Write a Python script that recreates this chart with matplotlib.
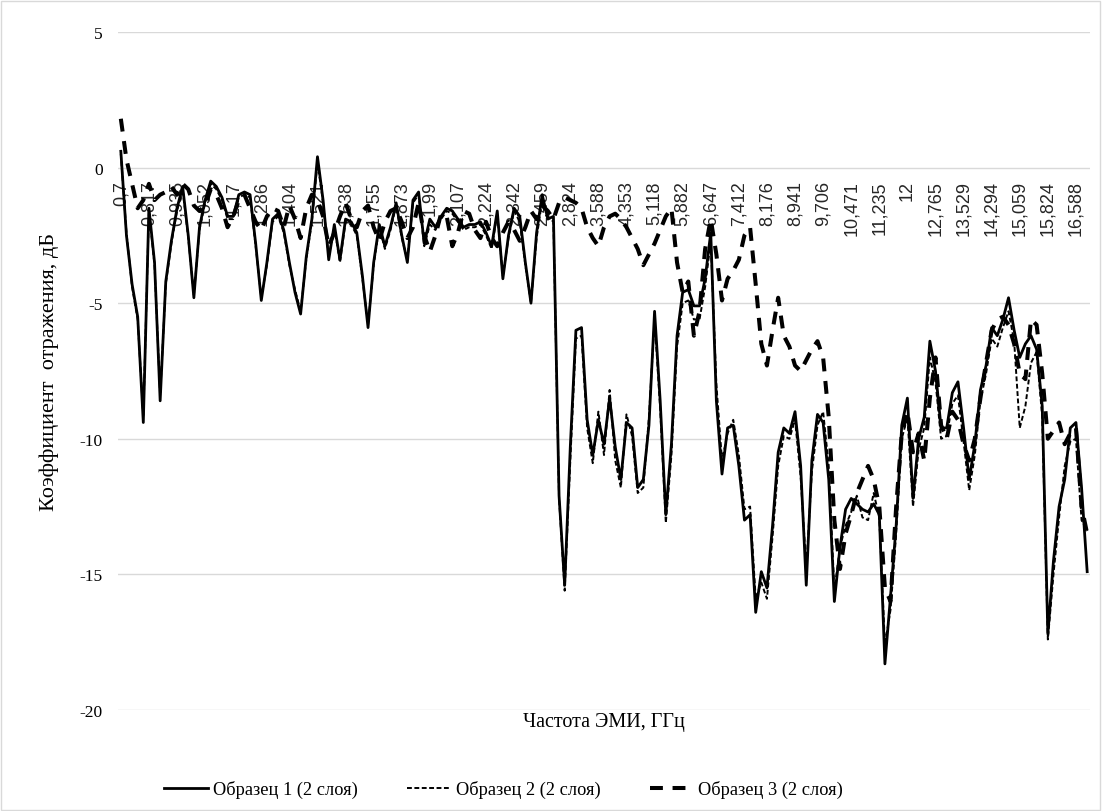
import matplotlib.pyplot as plt
from matplotlib.patches import Rectangle

# Category labels shown on the x axis (every 5th point)
tick_labels = ['0,7', '0,817', '0,935', '1,052', '1,17', '1,286', '1,404', '1,521',
               '1,638', '1,755', '1,873', '1,99', '2,107', '2,224', '2,342', '2,459',
               '2,824', '3,588', '4,353', '5,118', '5,882', '6,647', '7,412', '8,176',
               '8,941', '9,706', '10,471', '11,235', '12', '12,765', '13,529', '14,294',
               '15,059', '15,824', '16,588']
label_step = 5

series_names = ['Образец 1 (2 слоя)', 'Образец 2 (2 слоя)', 'Образец 3 (2 слоя)']

# Reflection coefficient, dB
sample1 = [
    0.6, -2.5, -4.3, -5.5, -9.4, -1.5, -3.5, -8.6, -4.2, -2.7,
    -1.5, -0.7, -2.5, -4.8, -2.2, -1.2, -0.5, -0.7, -1.1, -1.8,
    -1.8, -1.0, -0.9, -1.0, -2.8, -4.9, -3.5, -1.9, -1.7, -2.3,
    -3.5, -4.6, -5.4, -3.3, -1.9, 0.4, -1.2, -3.4, -2.1, -3.4,
    -1.9, -2.0, -2.4, -4.0, -5.9, -3.5, -2.1, -2.9, -2.2, -1.3,
    -2.5, -3.5, -1.2, -0.9, -2.8, -1.9, -2.2, -1.8, -1.5, -1.6,
    -1.9, -2.2, -2.1, -2.1, -2.0, -2.4, -2.9, -1.6, -4.1, -2.5,
    -1.5, -1.8, -3.5, -5.0, -2.4, -1.0, -1.9, -1.8, -12.1, -15.4,
    -10.3, -6.0, -5.9, -9.3, -10.6, -9.3, -10.2, -8.5, -10.3, -11.5,
    -9.4, -9.6, -11.8, -11.5, -9.5, -5.3, -8.6, -12.8, -10.2, -6.2,
    -4.6, -4.5, -5.1, -5.1, -4.1, -2.4, -8.6, -11.3, -9.6, -9.5,
    -11.0, -13.0, -12.8, -16.4, -14.9, -15.5, -13.2, -10.5, -9.6, -9.8,
    -9.0, -11.0, -15.4, -10.8, -9.1, -9.4, -11.5, -16.0, -14.0, -12.6,
    -12.2, -12.4, -12.6, -12.7, -12.4, -12.8, -18.3, -15.8, -13.2, -9.5,
    -8.5, -12.2, -10.0, -9.2, -6.4, -7.5, -9.6, -9.6, -8.3, -7.9,
    -9.6, -11.5, -10.2, -8.2, -7.3, -5.9, -6.2, -5.6, -4.8, -6.0,
    -7.0, -6.5, -6.2, -6.7, -8.8, -17.2, -14.5, -12.5, -11.5, -9.6,
    -9.4, -11.8, -14.9,
]

sample2 = [
    0.5, -2.4, -4.4, -5.6, -9.2, -1.6, -3.6, -8.4, -4.3, -2.8,
    -1.6, -0.8, -2.6, -4.7, -2.3, -1.3, -0.6, -0.8, -1.2, -1.9,
    -1.9, -1.1, -1.0, -1.1, -2.9, -4.8, -3.6, -2.0, -1.8, -2.4,
    -3.6, -4.5, -5.3, -3.4, -2.0, 0.2, -1.3, -3.3, -2.2, -3.5,
    -2.0, -2.1, -2.5, -4.1, -5.8, -3.6, -2.2, -3.0, -2.3, -1.4,
    -2.6, -3.4, -1.3, -1.0, -2.9, -2.1, -2.3, -1.9, -1.6, -1.7,
    -2.0, -2.3, -2.2, -2.2, -2.1, -2.5, -3.0, -1.7, -4.0, -2.6,
    -1.6, -2.0, -3.6, -5.0, -2.6, -1.2, -1.8, -2.0, -12.2, -15.6,
    -10.8, -6.3, -6.2, -9.6, -10.9, -9.0, -10.6, -8.2, -10.8, -11.8,
    -9.1, -9.9, -12.0, -11.8, -9.2, -5.6, -8.9, -13.1, -10.6, -6.6,
    -5.0, -4.9, -5.6, -5.6, -4.4, -2.7, -8.0, -10.8, -9.8, -9.3,
    -10.6, -12.6, -12.5, -15.9, -15.3, -15.9, -13.6, -11.0, -9.9, -10.0,
    -9.3, -11.4, -14.8, -11.2, -9.5, -9.0, -11.0, -15.6, -14.0, -13.2,
    -12.7, -12.1, -12.9, -13.0, -12.0, -12.9, -17.6, -16.3, -13.5, -10.0,
    -9.2, -12.5, -10.4, -9.6, -7.0, -7.9, -10.0, -9.9, -8.7, -8.4,
    -10.1, -11.9, -10.6, -8.6, -7.6, -6.3, -6.6, -5.9, -5.3, -6.4,
    -9.6, -8.8, -7.2, -6.8, -9.2, -17.4, -15.0, -12.9, -11.0, -10.1,
    -10.0, -13.0, -13.4,
]

sample3 = [
    1.8, 0.3, -0.6, -1.5, -1.2, -0.6, -1.2, -1.0, -0.9, -0.7,
    -1.0, -0.6, -0.8, -1.4, -1.6, -1.4, -0.8, -1.0, -1.5, -2.2,
    -1.8, -1.2, -1.0, -1.5, -2.0, -2.3, -1.8, -1.5, -1.6, -2.2,
    -1.4, -1.9, -2.6, -1.5, -1.0, -1.2, -1.8, -2.9, -2.4, -1.8,
    -1.3, -1.9, -2.2, -1.6, -1.4, -2.2, -2.7, -2.0, -1.6, -1.5,
    -2.0, -2.6, -2.2, -1.3, -2.5, -3.1, -2.5, -1.7, -1.8, -2.9,
    -2.4, -1.6, -1.7, -2.3, -2.6, -2.0, -2.6, -2.9, -2.4, -2.0,
    -2.3, -2.7, -2.2, -1.6, -1.9, -1.4, -1.6, -1.9, -1.3, -1.1,
    -1.2, -1.3, -1.5, -2.2, -2.6, -2.9, -2.2, -1.8, -1.7, -1.9,
    -2.2, -2.6, -3.0, -3.6, -3.2, -2.8, -2.3, -1.8, -1.5, -3.5,
    -4.6, -4.2, -6.2, -5.3, -3.0, -1.9, -3.2, -4.9, -4.1, -3.8,
    -3.4, -2.5, -2.2, -4.3, -6.5, -7.3, -6.0, -4.8, -6.2, -6.6,
    -7.3, -7.5, -7.1, -6.7, -6.4, -7.0, -9.2, -13.0, -14.8, -13.5,
    -12.8, -12.0, -11.5, -11.0, -11.5, -12.5, -15.5, -16.0, -12.5, -9.8,
    -9.0, -10.5, -9.8, -10.8, -8.5, -7.0, -9.5, -10.0, -9.0, -9.3,
    -10.2, -10.8, -10.0, -8.5, -7.2, -6.0, -5.6, -5.5, -5.8, -6.5,
    -7.6, -7.8, -5.6, -5.8, -7.6, -10.0, -9.7, -9.4, -10.2, -9.8,
    -9.6, -12.5, -13.5,
]

plt.rcParams['font.family'] = 'Liberation Serif'
plt.rcParams['axes.unicode_minus'] = False

x = list(range(len(sample1)))

fig = plt.figure(figsize=(11.02, 8.12), dpi=100)
ax = fig.add_axes([0.1071, 0.1244, 0.882, 0.835])

ax.plot(x, sample1, color='black', lw=2.0, label=series_names[0])
ax.plot(x, sample2, color='black', lw=1.4, dashes=(2.5, 1.3), label=series_names[1])
ax.plot(x, sample3, color='black', lw=2.9, dashes=(3.2, 2.4), label=series_names[2])

ax.set_xlim(-0.5, len(sample1) - 0.5)
ax.set_ylim(-20, 5)
ax.set_yticks(range(-20, 6, 5))
ax.grid(axis='y', color='#d9d9d9', lw=1)
ax.set_axisbelow(True)
for s in ax.spines.values():
    s.set_visible(False)
ax.spines['bottom'].set_position(('data', 0))

ax.set_xticks(range(0, len(tick_labels) * label_step, label_step))
ax.set_xticklabels(tick_labels, rotation=90, family='Liberation Sans',
                   fontsize=13, color='#262626')
ax.tick_params(axis='x', length=0, pad=9)
ax.tick_params(axis='y', length=0, pad=11, labelsize=12.5)

ax.set_ylabel('Коэффициент  отражения, дБ', fontsize=16)
ax.yaxis.set_label_coords(-0.061, 0.5)
ax.set_xlabel('Частота ЭМИ, ГГц', fontsize=14.5)
ax.xaxis.set_label_coords(0.5, -0.003)

fig.legend(loc='center', bbox_to_anchor=(0.457, 0.027), ncol=3, frameon=False,
           fontsize=13.2, handlelength=2.4, handletextpad=0.25, columnspacing=2.7)

fig.patches.append(Rectangle((0.001, 0.001), 0.997, 0.997, transform=fig.transFigure,
                             fill=False, edgecolor='#d9d9d9', lw=1))

fig.savefig('out.png', dpi=100)
